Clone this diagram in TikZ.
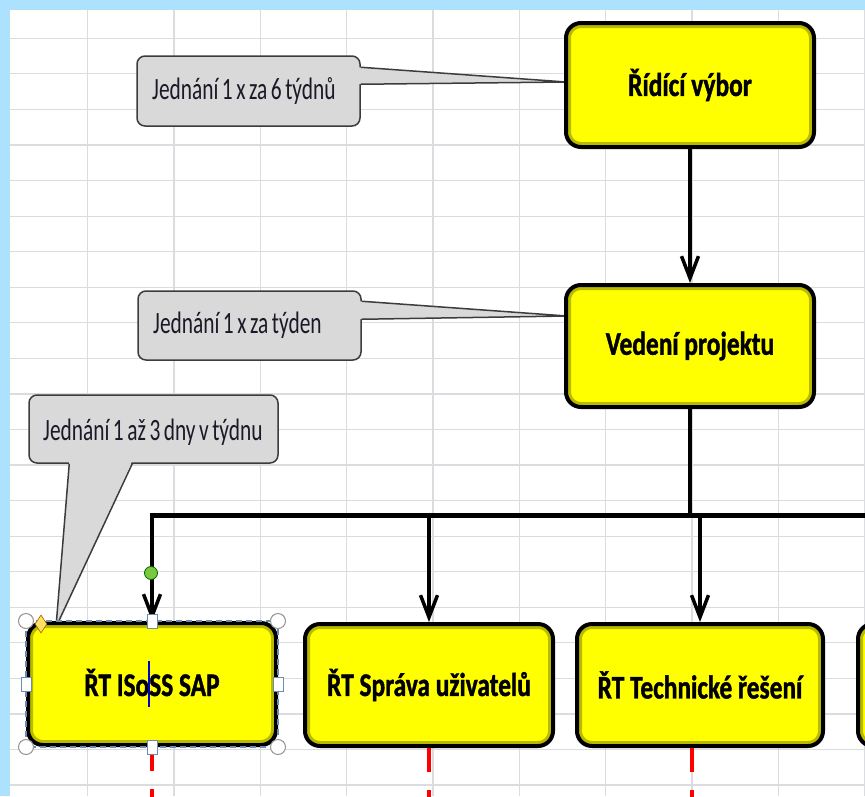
\documentclass[tikz,border=0pt]{standalone}
\usepackage{fontspec}
\setmainfont{Carlito}
\newfontfamily\boxfont[FakeStretch=0.77,FakeBold=1.2]{Carlito Bold}
\newfontfamily\callfont[FakeStretch=0.69]{Carlito}
\usetikzlibrary{arrows.meta,calc,shapes.geometric}
\definecolor{gridc}{RGB}{218,220,223}
\definecolor{stripc}{RGB}{173,226,254}
\definecolor{callg}{RGB}{217,217,217}
\definecolor{callb}{RGB}{60,60,60}
\definecolor{selb}{RGB}{110,140,175}
\definecolor{rotg}{RGB}{122,200,62}
\definecolor{diamy}{RGB}{255,228,100}
\definecolor{textc}{RGB}{25,25,40}
\definecolor{boxy}{RGB}{255,255,0}
\definecolor{boxshade}{RGB}{128,128,0}
\definecolor{redl}{RGB}{255,0,0}
\tikzset{
  gridline/.style={draw=gridc,line width=1.2pt},
  ybox/.style={draw=black,line width=4pt,fill=boxy,rounded corners=15pt,
    minimum width=248pt,minimum height=122pt,inner sep=0pt,
    font={\boxfont\fontsize{33}{38}\selectfont},
    path picture={\draw[draw=boxshade,opacity=0.55,line width=10pt,rounded corners=15pt]
      (path picture bounding box.south west) rectangle (path picture bounding box.north east);}},
  callbox/.style={draw=callb,fill=callg,line width=1.5pt,rounded corners=8pt,inner sep=0pt},
  callfillx/.style={fill=callg},
  callline/.style={draw=callb,line width=1.5pt,line join=miter},
  calltext/.style={inner sep=0pt,text=textc,font={\callfont\fontsize{31}{36}\selectfont\spaceskip=3.5pt plus 1pt minus 1pt}},
  conn/.style={draw=black,line width=3.5pt,-{Straight Barb[length=22pt,width=17pt]}},
  bus/.style={draw=black,line width=5pt,line cap=rect},
  vline/.style={draw=black,line width=3.5pt},
  reddash/.style={draw=redl,line width=3.2pt,dash pattern=on 24pt off 18pt},
  seldash/.style={draw=selb,line width=1.5pt,dash pattern=on 6pt off 4pt},
  hcirc/.style={circle,draw=gray!85,fill=white,line width=1pt,minimum size=15pt,inner sep=0pt},
  hsq/.style={rectangle,draw=selb,fill=white,line width=1pt,minimum width=10pt,minimum height=14pt,inner sep=0pt},
}
\begin{document}
\begin{tikzpicture}[x=1pt,y=-1pt]
\useasboundingbox (0,0) rectangle (865,796);
\clip (0,0) rectangle (865,796);
\fill[white] (0,0) rectangle (865,796);
% grid
\foreach \i in {0,...,9} \draw[gridline] ({87.7+86.33*\i},0) -- ++(0,796);
\foreach \j in {0,...,21} \draw[gridline] (0,{38.3+35.56*\j}) -- ++(865,0);
% strips
\fill[stripc] (0,0) rectangle (865,10);
\fill[stripc] (0,0) rectangle (10,796);

% tips of callouts
\coordinate (tipA) at (566,82);
\coordinate (tipB) at (567,316);
\coordinate (tipC) at (56,627);
\coordinate (bus) at (0,515);

% callout A
\node[callbox,minimum width=223pt,minimum height=70pt] (cA) at (248.5,91) {};
\fill[callfillx] ($(cA.north east)+(-3,12)$) -- (tipA) -- ($(cA.north east)+(-3,29)$) -- cycle;
\draw[callline] ($(cA.north east)+(0,12)$) -- (tipA) -- ($(cA.north east)+(0,29)$);
\node[calltext,anchor=base west] (tA) at (152,99) {Jednání 1 x za 6 týdnů};
% callout B
\node[callbox,minimum width=223pt,minimum height=69pt] (cB) at (249.5,325.5) {};
\fill[callfillx] ($(cB.north east)+(-3,11)$) -- (tipB) -- ($(cB.north east)+(-3,29)$) -- cycle;
\draw[callline] ($(cB.north east)+(0,11)$) -- (tipB) -- ($(cB.north east)+(0,29)$);
\node[calltext,anchor=base west] (tB) at (153,333) {Jednání 1 x za týden};
% callout C
\node[callbox,minimum width=249pt,minimum height=68pt] (cC) at (153.5,429) {};
\fill[callfillx] ($(cC.south west)+(41,-3)$) -- (tipC) -- ($(cC.south west)+(104,-3)$) -- cycle;
\draw[callline] ($(cC.south west)+(41,0)$) -- (tipC) -- ($(cC.south west)+(104,0)$);
\node[calltext,anchor=base west] (tC) at (43,440) {Jednání 1 až 3 dny v týdnu};

% boxes
\node[ybox,minimum height=124pt] (rid) at (690,85) {Řídící výbor};
\node[ybox] (ved) at (690,346) {Vedení projektu};
\node[ybox] (isoss) at (152,684) {ŘT ISo\makebox[0pt]{\textcolor{blue!80!black}{\rule[-11pt]{1.6pt}{46pt}}}SS SAP};
\node[ybox] (sprava) at (429,685) {ŘT Správa uživatelů};
\node[ybox,minimum width=246pt] (tech) at (700,685) {ŘT Technické řešení};
\node[ybox] (fourth) at (982,685) {};

% connectors
\draw[conn] (rid.south) -- (ved.north);
\draw[vline] (ved.south) -- (ved.south |- bus);
\draw[bus] (isoss.north |- bus) -- (fourth.north |- bus);
\draw[conn] (isoss.north |- bus) -- (isoss.north);
\draw[conn] (sprava.north |- bus) -- (sprava.north);
\draw[conn] (tech.north |- bus) -- (tech.north);

% red dashed lines
\draw[reddash] (isoss.south) -- ++(0,60);
\draw[reddash] (sprava.south) -- ++(0,60);
\draw[reddash] ($(tech.south)+(-8,0)$) -- ++(0,60);

% selection of ISoSS box
\draw[seldash] (isoss.north west) rectangle (isoss.south east);
\node[circle,draw=green!40!black,fill=rotg,line width=0.8pt,minimum size=13pt,inner sep=0pt] (rot) at (151,573) {};
\node[hcirc] (h1) at (isoss.north west) {};
\node[hcirc] (h2) at (isoss.north east) {};
\node[hcirc] (h3) at (isoss.south west) {};
\node[hcirc] (h4) at (isoss.south east) {};
\node[hsq] (s1) at (isoss.north) {};
\node[hsq] (s2) at (isoss.south) {};
\node[hsq] (s3) at (isoss.west) {};
\node[hsq] (s4) at (isoss.east) {};
\node[diamond,draw=orange!70!black,fill=diamy,line width=0.6pt,minimum width=12pt,minimum height=18pt,inner sep=0pt] (adj) at (41,624) {};
\end{tikzpicture}
\end{document}
